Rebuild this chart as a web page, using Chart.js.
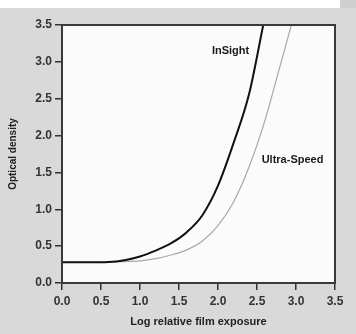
<!DOCTYPE html>
<html>
<head>
<meta charset="utf-8">
<script src="https://cdn.jsdelivr.net/npm/chart.js@4"></script>
<style>
  html, body { margin: 0; padding: 0; background: #fff; }
  #wrap { position: relative; width: 356px; height: 334px; }
  #bg { position: absolute; left: 0; top: 8px; width: 356px; height: 326px; background: #d9d9d9; }
  #corner { position: absolute; left: 340px; top: 0; width: 16px; height: 8px; background: #cfcfcf; }
  canvas { position: absolute; left: 0; top: 0; }
</style>
</head>
<body>
<div id="wrap">
  <div id="bg"></div>
  <div id="corner"></div>
  <canvas id="chart" width="356" height="334"></canvas>
</div>
<script>
// data
var insightX = [0, 0.3, 0.6, 0.8, 1.0, 1.2, 1.4, 1.6, 1.8, 2.0, 2.2, 2.4, 2.58];
var insightY = [0.28, 0.28, 0.285, 0.31, 0.36, 0.44, 0.54, 0.69, 0.92, 1.32, 1.90, 2.57, 3.5];
var ultraX = [0, 0.4, 0.8, 1.0, 1.2, 1.4, 1.6, 1.8, 2.0, 2.2, 2.4, 2.6, 2.8, 2.94];
var ultraY = [0.28, 0.28, 0.29, 0.30, 0.33, 0.38, 0.45, 0.57, 0.78, 1.10, 1.58, 2.20, 2.96, 3.5];
var curveLabels = [
  { text: "InSight", x: 2.40, y: 3.15, align: "right" },
  { text: "Ultra-Speed", x: 2.56, y: 1.67, align: "left" }
];

function toPoints(xs, ys) {
  var pts = [];
  for (var i = 0; i < xs.length; i++) pts.push({ x: xs[i], y: ys[i] });
  return pts;
}

var inkFont = "'Liberation Sans', Arial, sans-serif";

var plotBox = {
  id: "plotBox",
  beforeDraw: function (chart) {
    var a = chart.chartArea, c = chart.ctx;
    c.save();
    c.fillStyle = "#fbfbfb";
    c.fillRect(a.left, a.top, a.right - a.left, a.bottom - a.top);
    c.restore();
  },
  afterDraw: function (chart) {
    var a = chart.chartArea, c = chart.ctx;
    c.save();
    c.strokeStyle = "#3a3a3a";
    c.lineWidth = 2;
    c.strokeRect(a.left, a.top, a.right - a.left, a.bottom - a.top);
    // curve names
    c.fillStyle = "#1a1a1a";
    c.font = "bold 11px " + inkFont;
    c.textBaseline = "middle";
    curveLabels.forEach(function (l) {
      c.textAlign = l.align;
      c.fillText(l.text, chart.scales.x.getPixelForValue(l.x), chart.scales.y.getPixelForValue(l.y));
    });
    c.restore();
  }
};

var ctx = document.getElementById("chart");
var filmChart = new Chart(ctx, {
  type: "scatter",
  data: {
    datasets: [
      {
        label: "InSight",
        data: toPoints(insightX, insightY),
        showLine: true,
        borderColor: "#111",
        borderWidth: 2,
        pointRadius: 0,
        cubicInterpolationMode: "monotone"
      },
      {
        label: "Ultra-Speed",
        data: toPoints(ultraX, ultraY),
        showLine: true,
        borderColor: "#a8a8a8",
        borderWidth: 1.2,
        pointRadius: 0,
        cubicInterpolationMode: "monotone"
      }
    ]
  },
  options: {
    responsive: false,
    animation: false,
    layout: { padding: { left: 0, top: 25, right: 21, bottom: 0 } },
    plugins: {
      legend: { display: false },
      tooltip: { enabled: false }
    },
    scales: {
      x: {
        type: "linear",
        min: 0,
        max: 3.5,
        afterFit: function (s) { s.height = 51; },
        border: { display: false },
        grid: { drawOnChartArea: false, tickLength: 7, color: "#333", lineWidth: 1.5 },
        ticks: {
          stepSize: 0.5,
          padding: 4,
          color: "#333",
          font: { family: inkFont, size: 12, weight: "bold" },
          callback: function (v) { return v.toFixed(1); }
        },
        title: {
          display: true,
          text: "Log relative film exposure",
          color: "#222",
          padding: { top: 4, bottom: 5 },
          font: { family: inkFont, size: 11, weight: "bold" }
        }
      },
      y: {
        min: 0,
        max: 3.5,
        afterFit: function (s) { s.width = 62; },
        border: { display: false },
        grid: { drawOnChartArea: false, tickLength: 7, color: "#333", lineWidth: 1.5 },
        ticks: {
          stepSize: 0.5,
          padding: 3,
          color: "#333",
          font: { family: inkFont, size: 12, weight: "bold" },
          callback: function (v) { return v.toFixed(1); }
        },
        title: {
          display: true,
          text: "Optical density",
          color: "#222",
          padding: { top: 7, bottom: 0 },
          font: { family: inkFont, size: 10, weight: "bold" }
        }
      }
    }
  },
  plugins: [plotBox]
});
</script>
</body>
</html>
